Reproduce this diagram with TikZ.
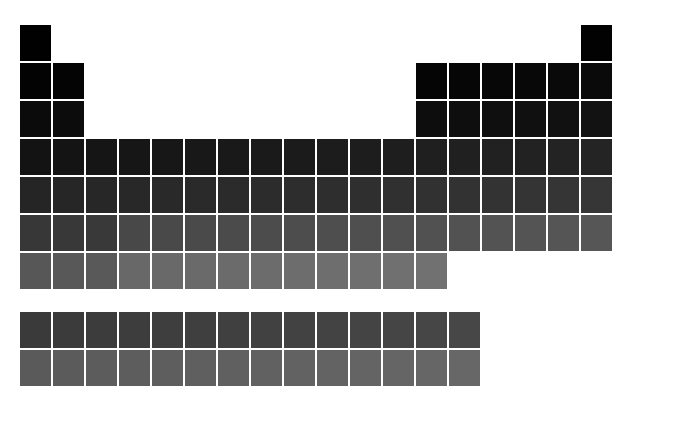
\documentclass[tikz,border=0pt]{standalone}
\begin{document}
\begin{tikzpicture}[x=1pt,y=-1pt,
  cell/.style={draw=none, minimum width=31pt, minimum height=36pt, inner sep=0pt, outer sep=0pt, anchor=north west}]
\useasboundingbox (0,0) rectangle (677,425);
% \cells{row y}{first col}{last col}{first Z}
\newcommand{\cellrun}[4]{%
  \foreach \c in {#2,...,#3}{%
    \pgfmathtruncatemacro{\z}{#4+\c-#2}%
    \pgfmathsetmacro{\xx}{20+33*(\c-1)}%
    \node[cell, fill={rgb,255:red,\z;green,\z;blue,\z}] (e\z) at (\xx,#1) {};
  }}
% row 1
\cellrun{25}{1}{1}{1}
\cellrun{25}{18}{18}{2}
% row 2
\cellrun{63}{1}{2}{3}
\cellrun{63}{13}{18}{5}
% row 3
\cellrun{101}{1}{2}{11}
\cellrun{101}{13}{18}{13}
% row 4
\cellrun{139}{1}{18}{19}
% row 5
\cellrun{177}{1}{18}{37}
% row 6
\cellrun{215}{1}{3}{55}
\cellrun{215}{4}{18}{72}
% row 7
\cellrun{253}{1}{3}{87}
\cellrun{253}{4}{13}{104}
% lanthanides / actinides
\cellrun{312}{1}{14}{58}
\cellrun{350}{1}{14}{90}
\end{tikzpicture}
\end{document}
